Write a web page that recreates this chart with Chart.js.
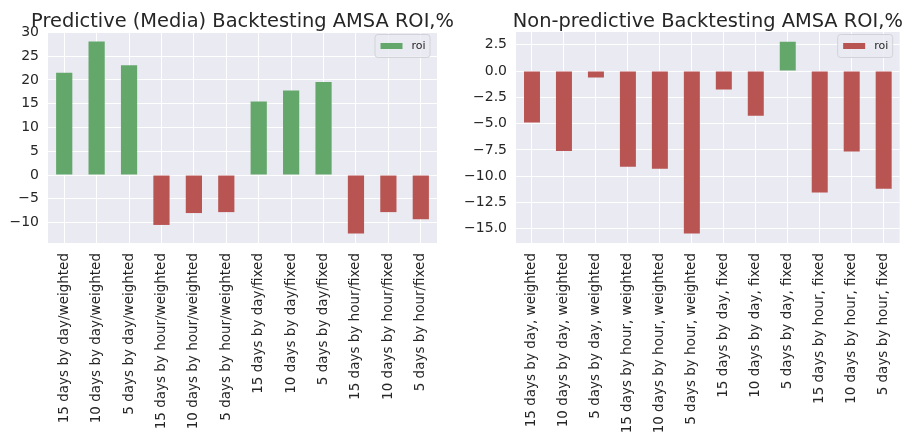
<!DOCTYPE html>
<html>
<head>
<meta charset="utf-8">
<script src="https://cdn.jsdelivr.net/npm/chart.js@4.4.0/dist/chart.umd.min.js"></script>
<style>
body{margin:0;width:904px;height:442px;overflow:hidden;background:#fff;position:relative}
canvas{position:absolute;top:0}
#leftChart{left:0}
#rightChart{left:450px}
</style>
</head>
<body>
<canvas id="leftChart" width="460" height="442"></canvas>
<canvas id="rightChart" width="460" height="442"></canvas>
<script>
// DATA
const predictiveLabels = [
  '15 days by day/weighted', '10 days by day/weighted', '5 days by day/weighted',
  '15 days by hour/weighted', '10 days by hour/weighted', '5 days by hour/weighted',
  '15 days by day/fixed', '10 days by day/fixed', '5 days by day/fixed',
  '15 days by hour/fixed', '10 days by hour/fixed', '5 days by hour/fixed'
];
const nonPredictiveLabels = [
  '15 days by day, weighted', '10 days by day, weighted', '5 days by day, weighted',
  '15 days by hour, weighted', '10 days by hour, weighted', '5 days by hour, weighted',
  '15 days by day, fixed', '10 days by day, fixed', '5 days by day, fixed',
  '15 days by hour, fixed', '10 days by hour, fixed', '5 days by hour, fixed'
];
const predictiveRoi = [21.5, 28.1, 23.1, -10.5, -8.0, -7.8, 15.5, 17.8, 19.6, -12.3, -7.8, -9.3];
const nonPredictiveRoi = [-4.9, -7.6, -0.6, -9.1, -9.3, -15.45, -1.75, -4.25, 2.8, -11.55, -7.65, -11.2];
const predictiveTicks = [-10, -5, 0, 5, 10, 15, 20, 25, 30];
const nonPredictiveTicks = [-15, -12.5, -10, -7.5, -5, -2.5, 0, 2.5];

const GREEN = '#64a76b';
const RED = '#b85452';
const TEXT = '#262626';
const FONT = '"DejaVu Sans", sans-serif';

// FONDO, TITULO Y LEYENDA
const panelPlugin = {
  id: 'panel',
  beforeDraw(chart) {
    const a = chart.chartArea, ctx = chart.ctx;
    ctx.save();
    ctx.fillStyle = '#eaeaf2';
    ctx.fillRect(a.left, a.top, a.right - a.left, a.bottom - a.top);
    ctx.restore();
  },
  afterDraw(chart, args, opts) {
    const a = chart.chartArea, ctx = chart.ctx;
    ctx.save();
    ctx.fillStyle = TEXT;
    ctx.font = '19.4px ' + FONT;
    ctx.textAlign = 'center';
    ctx.textBaseline = 'alphabetic';
    ctx.fillText(opts.title, (a.left + a.right) / 2, 27);

    // leyenda
    const bw = 55, bh = 23;
    const bx = a.right - 7.5 - bw, by = 34;
    ctx.beginPath();
    ctx.roundRect(bx + 0.5, by + 0.5, bw, bh, 3);
    ctx.fillStyle = 'rgba(234,234,242,0.8)';
    ctx.fill();
    ctx.strokeStyle = '#d2d2d8';
    ctx.lineWidth = 1;
    ctx.stroke();
    ctx.fillStyle = opts.legendColor;
    ctx.fillRect(bx + 6, by + 9, 22, 6);
    ctx.fillStyle = TEXT;
    ctx.font = '11px ' + FONT;
    ctx.textAlign = 'left';
    ctx.textBaseline = 'middle';
    ctx.fillText(opts.legendText, bx + 37, by + 12);
    ctx.restore();
  }
};

function fmtTick(v, decimals) {
  return (v < 0 ? '\u2212' : '') + Math.abs(v).toFixed(decimals);
}

function makeChart(id, labels, values, tickValues, yMin, yMax, title, axisWidth, padRight, decimals) {
  const colors = values.map(v => v >= 0 ? GREEN : RED);
  return new Chart(document.getElementById(id), {
    type: 'bar',
    data: {
      labels: labels,
      datasets: [{
        label: 'roi',
        data: values,
        backgroundColor: colors,
        borderWidth: 0,
        categoryPercentage: 1.0,
        barPercentage: 0.5
      }]
    },
    options: {
      responsive: false,
      animation: false,
      devicePixelRatio: 1,
      layout: { padding: { top: 32, left: 0, right: padRight, bottom: 0 } },
      plugins: {
        legend: { display: false },
        tooltip: { enabled: false },
        panel: { title: title, legendText: 'roi', legendColor: colors[0] }
      },
      scales: {
        x: {
          grid: { color: '#ffffff', lineWidth: 1, offset: false, drawTicks: false },
          border: { display: false },
          ticks: {
            autoSkip: false, maxRotation: 90, minRotation: 90,
            padding: 10, color: TEXT, font: { family: FONT, size: 13.5 }
          },
          afterFit(scale) { scale.height = 442 - 243; }
        },
        y: {
          min: yMin,
          max: yMax,
          grid: { color: '#ffffff', lineWidth: 1, drawTicks: false },
          border: { display: false },
          ticks: {
            padding: 9, color: TEXT, font: { family: FONT, size: 14 },
            callback: v => fmtTick(v, decimals)
          },
          afterBuildTicks(scale) { scale.ticks = tickValues.map(v => ({ value: v })); },
          afterFit(scale) { scale.width = axisWidth; }
        }
      }
    },
    plugins: [panelPlugin]
  });
}

makeChart('leftChart', predictiveLabels, predictiveRoi, predictiveTicks, -14.3, 30.1,
  'Predictive (Media) Backtesting AMSA ROI,%', 48, 23, 0);
makeChart('rightChart', nonPredictiveLabels, nonPredictiveRoi, nonPredictiveTicks, -16.36, 3.72,
  'Non-predictive Backtesting AMSA ROI,%', 66, 3, 1);
</script>
</body>
</html>
